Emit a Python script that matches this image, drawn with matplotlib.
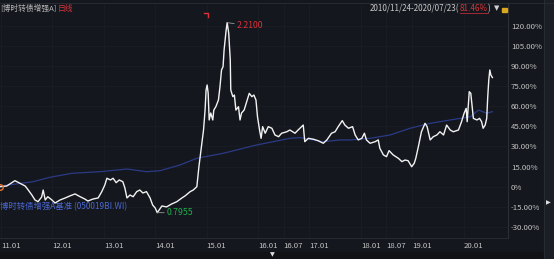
import matplotlib
matplotlib.use("Agg")
from matplotlib import pyplot as plt
from matplotlib.lines import Line2D
from matplotlib.patches import Rectangle

plt.rcParams['font.family'] = ['Noto Sans CJK SC', 'DejaVu Sans']

# 基金累计收益 (%), 横轴为年份小数
fund_t = [2010.90, 2010.98, 2011.11, 2011.27, 2011.37, 2011.47, 2011.53, 2011.60, 2011.66, 2011.72,
          2011.79, 2011.82, 2011.86, 2011.91, 2011.99, 2012.05, 2012.15, 2012.25, 2012.34, 2012.44,
          2012.54, 2012.63, 2012.69, 2012.79, 2012.89, 2012.96, 2013.02, 2013.06, 2013.13, 2013.18,
          2013.24, 2013.30, 2013.37, 2013.41, 2013.45, 2013.51, 2013.57, 2013.64, 2013.70, 2013.76,
          2013.83, 2013.90, 2013.95, 2014.00, 2014.04, 2014.13, 2014.22, 2014.32, 2014.42, 2014.52,
          2014.58, 2014.68, 2014.74, 2014.81, 2014.85, 2014.90, 2014.94, 2014.97, 2014.99, 2015.01,
          2015.03, 2015.05, 2015.08, 2015.12, 2015.14, 2015.18, 2015.23, 2015.26, 2015.29, 2015.32,
          2015.34, 2015.38, 2015.40, 2015.43, 2015.46, 2015.47, 2015.51, 2015.54, 2015.57, 2015.62,
          2015.65, 2015.68, 2015.73, 2015.78, 2015.83, 2015.88, 2015.92, 2015.96, 2015.99, 2016.03,
          2016.06, 2016.09, 2016.14, 2016.20, 2016.27, 2016.33, 2016.40, 2016.46, 2016.56, 2016.62,
          2016.72, 2016.78, 2016.88, 2016.91, 2016.98, 2017.08, 2017.17, 2017.27, 2017.34, 2017.43,
          2017.50, 2017.56, 2017.64, 2017.69, 2017.76, 2017.84, 2017.89, 2017.95, 2018.02, 2018.07,
          2018.11, 2018.18, 2018.28, 2018.34, 2018.37, 2018.44, 2018.50, 2018.55, 2018.63, 2018.73,
          2018.80, 2018.86, 2018.92, 2018.99, 2019.04, 2019.07, 2019.12, 2019.18, 2019.25, 2019.29,
          2019.35, 2019.41, 2019.48, 2019.54, 2019.61, 2019.67, 2019.74, 2019.80, 2019.90, 2019.96,
          2020.01, 2020.05, 2020.07, 2020.11, 2020.14, 2020.16, 2020.19, 2020.26, 2020.31, 2020.35,
          2020.38, 2020.42, 2020.45, 2020.47, 2020.49, 2020.51, 2020.53, 2020.56]
fund_v = [0.0, 0.0, 0.5, 4.5, 2.5, 0.5, -2.5, -6.2, -9.9, -11.2,
          -7.7, -2.5, -9.9, -7.5, -9.9, -12.2, -9.9, -8.4, -6.9, -5.4,
          -7.5, -9.2, -10.7, -9.2, -8.4, -3.7, 1.3, 6.3, 5.0, 6.3,
          3.0, 5.0, 3.7, -1.0, -8.4, -6.2, -7.5, -3.7, -2.5, -4.7,
          -3.7, -8.4, -13.7, -15.9, -19.4, -14.4, -15.1, -12.9, -11.2, -8.4,
          -6.9, -3.7, -2.5, 0.0, 14.9, 29.9, 42.3, 57.2, 72.2, 75.9,
          69.9, 49.8, 55.0, 49.8, 57.2, 59.7, 64.7, 74.6, 87.1, 89.6,
          102.0, 116.9, 122.4, 114.5, 94.6, 72.2, 67.2, 68.4, 57.2, 59.7,
          49.8, 55.0, 57.2, 63.4, 69.7, 67.2, 68.4, 64.7, 52.2, 42.3,
          36.1, 44.8, 39.9, 44.8, 43.6, 38.6, 37.3, 39.9, 41.0, 42.3,
          39.9, 42.3, 46.0, 33.6, 36.1, 35.4, 34.3, 32.4, 34.9, 39.9,
          41.0, 44.8, 49.3, 46.0, 43.6, 44.8, 38.6, 34.9, 36.1, 39.9,
          34.9, 32.4, 33.6, 34.9, 28.7, 23.7, 22.4, 26.9, 23.7, 21.2,
          18.7, 19.9, 19.4, 14.9, 17.5, 21.2, 29.9, 41.0, 47.3, 44.8,
          34.9, 37.3, 38.6, 41.0, 38.6, 46.0, 42.3, 41.0, 42.3, 48.5,
          54.8, 58.5, 48.5, 70.9, 69.7, 62.2, 51.0, 49.8, 51.0, 48.5,
          43.6, 46.0, 51.0, 67.2, 79.6, 87.1, 83.4, 81.46]

# 基准累计收益 (%)
bench_t = [2010.90, 2011.62, 2011.95, 2012.38, 2012.93, 2013.45, 2013.83, 2014.09, 2014.48, 2014.81,
           2015.32, 2015.97, 2016.62, 2016.82, 2017.26, 2017.60, 2017.79, 2018.18, 2018.57, 2018.96,
           2019.35, 2019.74, 2020.13, 2020.29, 2020.45, 2020.56]
bench_v = [0.0, 3.7, 7.0, 10.0, 11.2, 13.2, 11.2, 11.9, 16.2, 21.2,
           24.9, 31.1, 36.1, 36.6, 33.6, 34.9, 34.9, 36.1, 38.6, 43.6,
           47.3, 49.8, 52.2, 57.2, 54.8, 56.0]

y_ticks = [-30, -15, 0, 15, 30, 45, 60, 75, 90, 105, 120]
x_ticks = [2011.0, 2012.0, 2013.0, 2014.0, 2015.0, 2016.0, 2016.5, 2017.0, 2018.0, 2018.5, 2019.0, 2020.0]
x_labels = ['11.01', '12.01', '13.01', '14.01', '15.01', '16.01', '16.07', '17.01', '18.01', '18.07', '19.01', '20.01']

max_nav = '2.2100'
min_nav = '0.7955'
title_left = '[博时转债增强A]'
title_range = '2010/11/24-2020/07/23('
title_pct = '81.46%'
bench_name = '博时转债增强A基准 (050019BI.WI)'

W, H = 554, 259
bg = '#14171d'
fig = plt.figure(figsize=(W / 100, H / 100), dpi=100, facecolor=bg)


def fx(px):
    return px / W


def fy(py):
    return 1 - py / H


ax = fig.add_axes([0, fy(238), fx(508), (238 - 3) / H])
ax.set_facecolor(bg)
ax.set_xlim(2010.98, 2020.864)
ax.set_ylim(-38.3, 137.1)

ax.plot(bench_t, bench_v, color='#2b3a86', lw=0.9, zorder=2)
ax.plot(fund_t, fund_v, color='#f2f2f2', lw=1.0, zorder=3)
ax.plot([fund_t[1]], [fund_v[1]], marker='o', ms=4, mfc='none', mec='#e8742a', mew=1.0, zorder=4)

# 最高/最低点标注
imax = fund_v.index(max(fund_v))
imin = fund_v.index(min(fund_v))
ax.annotate(max_nav, xy=(fund_t[imax], fund_v[imax]), xytext=(7, -2), textcoords='offset points',
            color='#d8333a', fontsize=6.3, va='center', ha='left',
            arrowprops=dict(arrowstyle='-', color='#9a9a9a', lw=0.6, shrinkA=0, shrinkB=0))
ax.annotate(min_nav, xy=(fund_t[imin], fund_v[imin]), xytext=(7, 0), textcoords='offset points',
            color='#1fae4c', fontsize=6.3, va='center', ha='left',
            arrowprops=dict(arrowstyle='-', color='#9a9a9a', lw=0.6, shrinkA=0, shrinkB=0))

ax.set_yticks(y_ticks)
ax.set_yticklabels(['0%' if v == 0 else f'{v:.2f}%' for v in y_ticks])
ax.yaxis.tick_right()
ax.set_xticks(x_ticks)
ax.set_xticklabels(x_labels)
for lbl in ax.get_xticklabels():
    lbl.set_ha('left')
ax.tick_params(axis='both', length=0, colors='#c4c4c4', labelsize=5.6)
ax.tick_params(axis='y', pad=2)
ax.tick_params(axis='x', pad=3)
ax.grid(True, color='#1a1d24', lw=0.6)
for s in ['top', 'left']:
    ax.spines[s].set_visible(False)
ax.spines['right'].set_color('#2a2e36')
ax.spines['bottom'].set_color('#2a2e36')
ax.spines['right'].set_linewidth(0.8)
ax.spines['bottom'].set_linewidth(0.6)

# 图例文字
ax.text(0, fy(207), bench_name, transform=fig.transFigure, color='#4a67d0', fontsize=6.0,
        va='center', ha='left')

# 顶部标题
fig.add_artist(Line2D([0, 1], [fy(3), fy(3)], color='#2a2e36', lw=0.6))
fig.text(fx(0), fy(8.5), title_left, color='#b8b8b8', fontsize=5.6, va='center', ha='left')
fig.text(fx(58), fy(8.5), '日线', color='#d8333a', fontsize=5.6, va='center', ha='left')
fs_t = 5.8
t1 = fig.text(fx(370), fy(8.5), title_range, color='#c8c8c8', fontsize=fs_t, va='center', ha='left')
fig.canvas.draw()
bb = t1.get_window_extent()
t2 = fig.text(bb.x1 / W, fy(8.5), title_pct, color='#d8333a', fontsize=fs_t, va='center', ha='left')
bb2 = t2.get_window_extent()
fig.text(bb2.x1 / W, fy(8.5), ')', color='#c8c8c8', fontsize=fs_t, va='center', ha='left')
fig.add_artist(Line2D([bb2.x0 / W, bb2.x1 / W], [fy(13), fy(13)], color='#d8333a', lw=0.5))
fig.text(fx(497), fy(8.5), '▼', color='#d0d0d0', fontsize=5, va='center', ha='center',
         family=['DejaVu Sans'])
fig.add_artist(Rectangle((fx(502), fy(12)), fx(5), 4 / H, color='#d9a620'))

# 最高点上方的红色小标记
fig.add_artist(Line2D([fx(204), fx(208), fx(208)], [fy(13), fy(13), fy(17)], color='#d8333a', lw=1.0))

# 底部与右侧边栏
fig.add_artist(Rectangle((0, 0), 1, 7 / H, color='#101216'))
fig.add_artist(Rectangle((fx(544), 0), fx(10), 1, color='#1b1e25'))
fig.add_artist(Line2D([fx(544), fx(544)], [0, 1], color='#2a2e36', lw=0.6))
fig.text(fx(548), fy(203), '▶', color='#e0e0e0', fontsize=4.5, va='center', ha='center',
         family=['DejaVu Sans'])
fig.text(fx(272), fy(255), '▼', color='#e0e0e0', fontsize=4.5, va='center', ha='center',
         family=['DejaVu Sans'])

fig.savefig('out.png', dpi=100, facecolor=bg)
